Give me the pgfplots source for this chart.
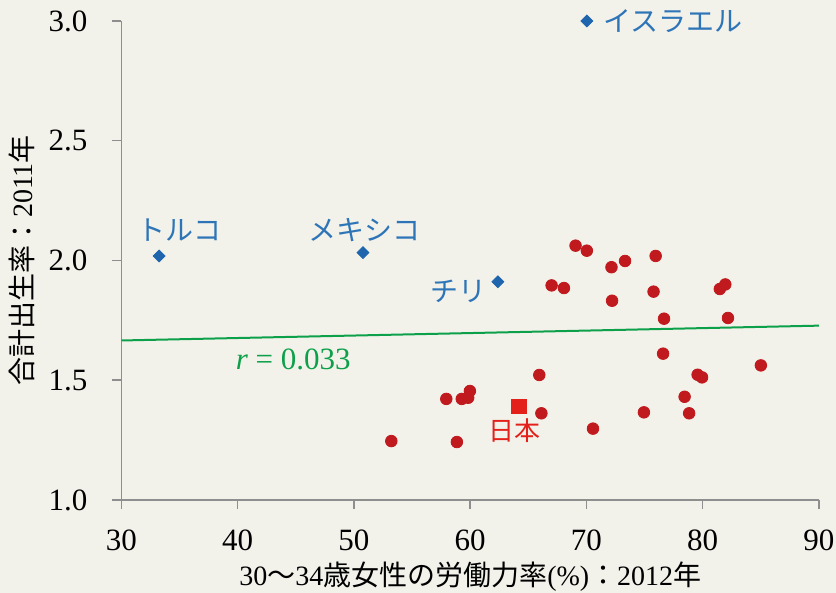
\documentclass[border=0pt]{standalone}
\usepackage{fontspec}
\setmainfont{Liberation Serif}
\newfontfamily\jp{Noto Sans CJK JP}
\usepackage{pgfplots}
\pgfplotsset{compat=1.18}
\definecolor{bgc}{HTML}{F3F2EA}
\definecolor{axgray}{HTML}{8E8E8E}
\definecolor{dotred}{HTML}{C0191E}
\definecolor{jpred}{HTML}{E4201B}
\definecolor{dblue}{HTML}{1E65AE}
\definecolor{lblue}{HTML}{2E75B8}
\definecolor{trend}{HTML}{0DA04A}

\begin{document}
\begin{tikzpicture}
\useasboundingbox[fill=bgc] (-60.75pt,-46.5pt) rectangle (357.25pt,250pt);
\begin{axis}[
    at={(0pt,0pt)}, anchor=south west,
    scale only axis, width=348.75pt, height=239.5pt,
    xmin=30, xmax=90, ymin=1, ymax=3,
    axis x line*=bottom, axis y line*=left,
    xtick pos=bottom, ytick pos=left,
    xtick={30,40,...,90}, ytick={1,1.5,2,2.5,3},
    tick align=outside, major tick length=4.5pt,
    xtick style={draw=axgray, line width=0.75pt},
    ytick style={draw=axgray, line width=0.75pt},
    axis line style={draw=axgray, line width=0.75pt},
    /pgf/number format/assume math mode=true,
    ticklabel style={font=\fontsize{15.5}{15.5}\selectfont},
    xticklabel style={yshift=-7pt},
    yticklabel style={xshift=-9pt, /pgf/number format/.cd, fixed, fixed zerofill, precision=1},
    clip=false,
    xlabel={30{\jp 〜}34{\jp 歳女性の労働力率}(\%){\jp ：}2012{\jp 年}},
    ylabel={{\jp 合計出生率：}2011{\jp 年}},
    label style={font=\fontsize{14}{14}\selectfont},
    xlabel style={at={(axis description cs:0.5,0)}, anchor=center, yshift=-38.5pt},
    ylabel style={at={(axis description cs:0,0.5)}, anchor=center, yshift=49.75pt},
]
% other OECD countries
\addplot[only marks, mark=*, mark size=2.9pt, color=dotred] coordinates {
(69.06,2.062) (70.03,2.041) (72.15,1.972) (73.32,1.998) (75.95,2.019)
(67.0,1.896) (68.06,1.885) (72.2,1.832) (75.77,1.870) (81.47,1.881)
(81.94,1.900) (76.67,1.757) (82.17,1.760) (76.59,1.611) (85.0,1.562)
(79.56,1.523) (79.94,1.512) (78.44,1.431) (78.83,1.362) (74.94,1.366)
(70.56,1.298) (66.12,1.362) (65.94,1.522) (59.97,1.455) (59.82,1.427)
(59.27,1.422) (57.94,1.422) (53.21,1.246) (58.85,1.242)
};
% Japan
\addplot[only marks, mark=square*, mark size=3.6pt, color=jpred] coordinates {(64.2,1.391)};
% outliers
\addplot[only marks, mark=square*, mark size=2.1pt, mark options={rotate=45}, color=dblue] coordinates {
(33.24,2.019) (50.77,2.033) (62.38,1.911) (70.03,3.0)
};
% trend line
\addplot[trend, line width=1pt] coordinates {(30,1.666) (90,1.728)};

\node[text=lblue, font=\jp\fontsize{14}{14}\selectfont] at (axis cs:35.0,2.127) {トルコ};
\node[text=lblue, font=\jp\fontsize{14}{14}\selectfont] at (axis cs:50.9,2.127) {メキシコ};
\node[text=lblue, font=\jp\fontsize{14}{14}\selectfont] at (axis cs:58.96,1.873) {チリ};
\node[text=lblue, font=\jp\fontsize{14}{14}\selectfont, anchor=west, inner sep=0pt] at (axis cs:71.4,3.0) {イスラエル};
\node[text=jpred, font=\jp\fontsize{13}{13}\selectfont] at (axis cs:63.85,1.288) {日本};
\node[text=trend, font=\fontsize{15.5}{15.5}\selectfont, anchor=west, inner sep=0pt] at (axis cs:39.8,1.585) {\textit{r} = 0.033};
\end{axis}
\end{tikzpicture}
\end{document}
